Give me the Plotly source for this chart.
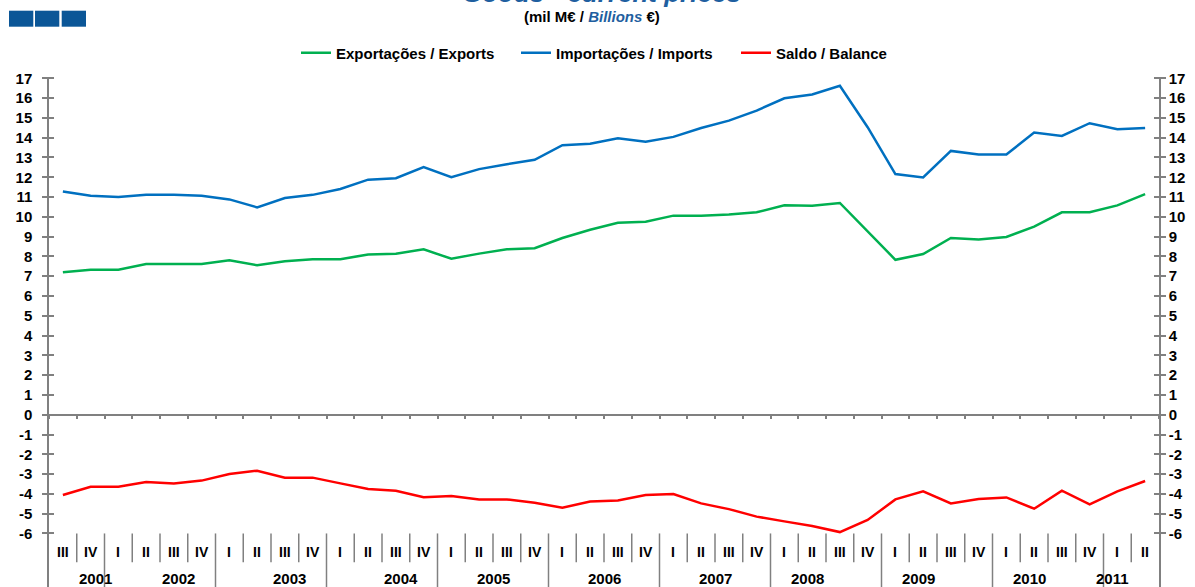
import plotly.graph_objects as go

years = ["2001", "2002", "2003", "2004", "2005", "2006", "2007", "2008", "2009", "2010", "2011"]
quarter_names = ["I", "II", "III", "IV"]
first_quarter = 3   # 2001 III
n_points = 40

categories = []
q_labels = []
q_years = []
yi, q = 0, first_quarter
for _ in range(n_points):
    categories.append(f"{years[yi]} {quarter_names[q - 1]}")
    q_labels.append(quarter_names[q - 1])
    q_years.append(years[yi])
    q += 1
    if q > 4:
        q = 1
        yi += 1

exports = [7.20, 7.33, 7.33, 7.62, 7.62, 7.62, 7.81, 7.55, 7.76, 7.86,
           7.86, 8.10, 8.14, 8.36, 7.88, 8.14, 8.36, 8.41, 8.93, 9.35,
           9.70, 9.75, 10.06, 10.06, 10.12, 10.23, 10.58, 10.56, 10.70, 9.25,
           7.83, 8.12, 8.93, 8.86, 8.98, 9.50, 10.23, 10.23, 10.58, 11.15]

imports = [11.28, 11.06, 11.00, 11.11, 11.11, 11.06, 10.88, 10.48, 10.95, 11.11,
           11.41, 11.88, 11.95, 12.51, 12.00, 12.41, 12.66, 12.88, 13.62, 13.69,
           13.97, 13.80, 14.04, 14.49, 14.86, 15.37, 15.99, 16.18, 16.62, 14.53,
           12.16, 11.99, 13.33, 13.15, 13.15, 14.26, 14.09, 14.73, 14.43, 14.49]

balance = [-4.06, -3.64, -3.64, -3.40, -3.47, -3.33, -3.00, -2.83, -3.18, -3.18,
           -3.47, -3.75, -3.84, -4.17, -4.11, -4.28, -4.28, -4.45, -4.70, -4.39,
           -4.33, -4.06, -4.01, -4.48, -4.77, -5.15, -5.39, -5.62, -5.93, -5.32,
           -4.28, -3.87, -4.48, -4.26, -4.18, -4.75, -3.84, -4.53, -3.87, -3.35]

y_ticks = list(range(-6, 18))
y_ticktext = [str(v) for v in y_ticks]   # plain hyphen minus, as in the original

series_names = ["Exportações / Exports", "Importações / Imports", "Saldo / Balance"]
series_colors = ["#00b050", "#0070c0", "#ff0000"]

# ---------------- layout geometry ----------------
W, H = 1195, 587
M_L, M_R, M_T, M_B = 49, 36, 77, 0
PW, PH = W - M_L - M_R, H - M_T - M_B
Y_TOP = 17.066
Y_BOT = -8.706
AXIS_GRAY = "#808080"
FONT = "Liberation Sans, Arial, sans-serif"


def px_to_py(py):
    return (H - M_B - py) / PH


def px_to_px(px):
    return (px - M_L) / PW


fig = go.Figure()
for name, vals, col in zip(series_names, [exports, imports, balance], series_colors):
    fig.add_trace(go.Scatter(x=categories, y=vals, name=name, mode="lines",
                             line=dict(color=col, width=2.5)))

zero_pos = (0 - Y_BOT) / (Y_TOP - Y_BOT)

axis_base = dict(range=[Y_BOT, Y_TOP], tickvals=y_ticks, ticktext=y_ticktext,
                 showgrid=False, zeroline=False, showline=True, linecolor=AXIS_GRAY,
                 linewidth=1.5, tickcolor=AXIS_GRAY, tickwidth=1.5)
tick_font = dict(family=FONT, size=15, color="black", weight="bold")

fig.update_layout(
    width=W, height=H,
    margin=dict(l=M_L, r=M_R, t=M_T, b=M_B, autoexpand=False),
    paper_bgcolor="white", plot_bgcolor="white",
    xaxis=dict(type="category", categoryorder="array", categoryarray=categories,
               range=[-0.5, n_points - 0.5], anchor="free", position=zero_pos,
               showline=True, linecolor=AXIS_GRAY, linewidth=1.5,
               ticks="outside", tickson="boundaries", ticklen=4,
               tickcolor=AXIS_GRAY, tickwidth=1.5,
               showticklabels=False, showgrid=False, zeroline=False),
    yaxis=dict(side="left", ticks="outside", ticklen=5, tickfont=tick_font,
               ticklabelstandoff=7, **axis_base),
    yaxis2=dict(side="right", overlaying="y", anchor="x", ticks="outside", ticklen=5,
                tickfont=tick_font, **axis_base),
    yaxis3=dict(side="left", overlaying="y", anchor="x", ticks="inside", ticklen=5,
                showticklabels=False, **axis_base),
    yaxis4=dict(side="right", overlaying="y", anchor="x", ticks="inside", ticklen=5,
                showticklabels=False, **axis_base),
    showlegend=True,
    legend=dict(orientation="h", x=px_to_px(296), xanchor="left",
                y=px_to_py(53), yanchor="middle",
                font=dict(family=FONT, size=15, color="black", weight="bold"),
                itemwidth=30, entrywidth=175, bgcolor="rgba(0,0,0,0)"),
)

# dummy traces to show the extra axes
for ax in ["y2", "y3", "y4"]:
    fig.add_trace(go.Scatter(x=[categories[0]], y=[None], yaxis=ax, showlegend=False,
                             hoverinfo="skip", mode="lines"))

shapes = []
# separators below the plotting area (quarter and year boundaries)
for k in range(1, n_points):
    is_year = q_labels[k] == "I"
    shapes.append(dict(type="line", xref="paper", yref="y",
                       x0=k / n_points, x1=k / n_points,
                       y0=-6, y1=(Y_BOT if is_year else -7.46),
                       line=dict(color=AXIS_GRAY, width=1.5)))

# header squares
for (x0, x1) in [(9, 33.3), (35, 59.3), (61.7, 86)]:
    shapes.append(dict(type="rect", xref="paper", yref="paper",
                       x0=px_to_px(x0), x1=px_to_px(x1),
                       y0=px_to_py(26.7), y1=px_to_py(10.7),
                       line=dict(width=0), fillcolor="#0b5697"))
fig.update_layout(shapes=shapes)

annotations = []
for cat, ql in zip(categories, q_labels):
    annotations.append(dict(x=cat, y=-6.92, xref="x", yref="y", text=ql, showarrow=False,
                            font=dict(family=FONT, size=14, color="black", weight="bold")))

# year labels centred over their quarters
for yr in years:
    idx = [i for i, y in enumerate(q_years) if y == yr]
    centre = (idx[0] + idx[-1]) / 2
    annotations.append(dict(x=(centre + 0.5) / n_points, y=-8.3, xref="paper", yref="y",
                            text=yr, showarrow=False,
                            font=dict(family=FONT, size=15, color="black", weight="bold")))

annotations.append(dict(x=px_to_px(601), y=px_to_py(3), xref="paper", yref="paper",
                        xanchor="center", yanchor="bottom", yshift=-7,
                        text="<b><i>Goods - current prices</i></b>", showarrow=False,
                        font=dict(family=FONT, size=26, color="#1f5fa0")))
annotations.append(dict(x=px_to_px(591.7), y=px_to_py(17), xref="paper", yref="paper",
                        xanchor="center", yanchor="middle",
                        text="<b>(mil M€ / <i><span style='color:#1f5fa0'>Billions</span></i> €)</b>",
                        showarrow=False,
                        font=dict(family=FONT, size=15, color="black")))
fig.update_layout(annotations=annotations)

fig.write_html("out.html", config={"displayModeBar": False},
               post_script="document.body.style.margin='0';")
